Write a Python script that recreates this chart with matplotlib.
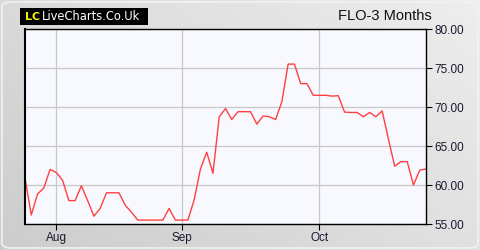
import numpy as np
import pandas as pd
import matplotlib
matplotlib.use("Agg")
import matplotlib.pyplot as plt
from matplotlib.patches import FancyBboxPatch, Rectangle

# daily closes, 25 Jul - 24 Oct (UK trading days)
prices = [60.9, 56.15, 58.85, 59.6, 62.0, 61.6, 60.6, 58.0, 58.0, 59.9,
          58.0, 56.0, 57.0, 59.0, 59.0, 59.0, 57.4, 56.5, 55.5, 55.5,
          55.5, 55.5, 55.5, 57.0, 55.5, 55.5, 55.5, 58.1, 62.05, 64.2,
          61.5, 68.75, 69.8, 68.4, 69.4, 69.4, 69.4, 67.8, 68.85, 68.75,
          68.4, 70.7, 75.5, 75.5, 73.0, 73.0, 71.5, 71.5, 71.5, 71.4,
          71.45, 69.35, 69.3, 69.3, 68.75, 69.3, 68.75, 69.5, 65.9, 62.4,
          63.0, 63.0, 60.0, 61.9, 62.05]
days = pd.bdate_range("2025-07-25", "2025-10-24")
days = days[days != pd.Timestamp("2025-08-25")]  # bank holiday
y_ticks = [55, 60, 65, 70, 75, 80]

x = np.arange(len(prices))
month_starts = [i for i in range(1, len(days)) if days[i].month != days[i - 1].month]
month_labels = [days[i].strftime("%b") for i in month_starts]

plt.rcParams["font.family"] = ["Liberation Sans", "DejaVu Sans"]

fig = plt.figure(figsize=(4.8, 2.5), dpi=100)

# grey gradient backdrop
bg = fig.add_axes([0, 0, 1, 1], zorder=-10)
gx, gy = np.meshgrid(np.linspace(0, 1, 200), np.linspace(0, 1, 100))
grad = 0.80 + 0.13 * (0.6 * gx + 0.4 * (1 - gy))
bg.imshow(grad, cmap="gray", vmin=0, vmax=1, aspect="auto", extent=[0, 1, 0, 1])
bg.add_patch(FancyBboxPatch((0.004, 0.008), 0.992, 0.984,
                            boxstyle="round,pad=0,rounding_size=0.02",
                            fc="none", ec="#f2f2f2", lw=1.2,
                            transform=bg.transAxes))
bg.set_xlim(0, 1)
bg.set_ylim(0, 1)
bg.axis("off")

ax = fig.add_axes([25 / 480, 26 / 250, 401 / 480, 195 / 250])
ax.set_facecolor("#f8f9ff")
ax.plot(x, prices, color="#ff4040", lw=1.0)

ax.set_xlim(0, len(prices) - 1)
ax.set_ylim(55, 80)
ax.set_yticks(y_ticks)
ax.set_yticklabels([f"{v:.2f}" for v in y_ticks])
ax.set_xticks(month_starts)
ax.set_xticklabels(month_labels)
ax.yaxis.tick_right()
ax.tick_params(axis="both", labelsize=8.5, length=4, width=0.8, colors="black",
               labelcolor="#1a1a30", pad=2)
ax.grid(True, color="#c8c8c8", lw=0.9)
ax.set_axisbelow(True)
for s in ax.spines.values():
    s.set_color("black")
    s.set_linewidth(1.0)
ax.spines["left"].set_linewidth(1.5)

fig.text(432 / 480, 1 - 16 / 250, "FLO-3 Months", ha="right", va="center",
         fontsize=10.5, color="#111111")

# logo
fig.patches.append(Rectangle((20 / 480, 1 - 25 / 250), 128 / 480, 17 / 250,
                             transform=fig.transFigure, fc="black", ec="none"))
fig.text(25 / 480, 1 - 16.5 / 250, "LC", ha="left", va="center", fontsize=8,
         fontweight="bold", color="#f2f200", family="DejaVu Sans")
fig.text(42 / 480, 1 - 16.5 / 250, "LiveCharts.Co.Uk", ha="left", va="center",
         fontsize=8.3, color="white", family="DejaVu Sans")

fig.savefig("out.png", dpi=100)
